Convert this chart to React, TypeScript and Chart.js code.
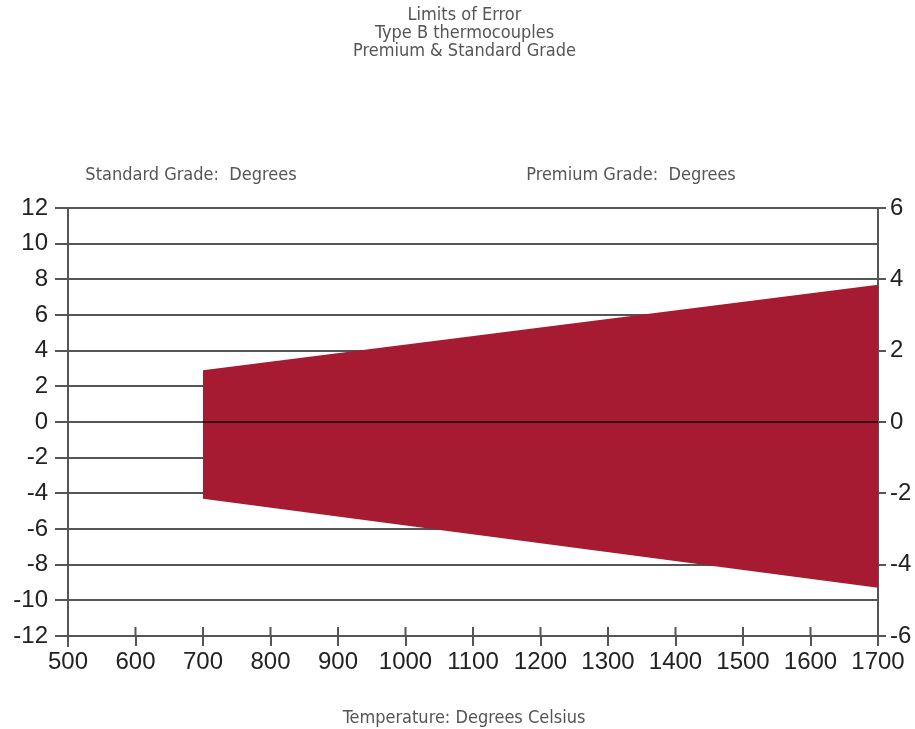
import React, { useEffect, useRef } from 'react';
import { Chart, registerables } from 'chart.js';

Chart.register(...registerables);

// ---- Data ----
const titleLines = ['Limits of Error', 'Type B thermocouples', 'Premium & Standard Grade'];
const leftAxisLabel = 'Standard Grade:  Degrees';
const rightAxisLabel = 'Premium Grade:  Degrees';
const xAxisLabel = 'Temperature: Degrees Celsius';

const temperatures = [700, 1700];
const upperLimit = [2.9, 7.7];
const lowerLimit = [-4.3, -9.3];

const xMin = 500;
const xMax = 1700;
const xStep = 100;
const yLeftMin = -12;
const yLeftMax = 12;
const yRightMin = -6;
const yRightMax = 6;
const yStep = 2;

const RED = '#a61b32';
const GRID = '#555555';
const TICK_TEXT = '#222222';
const NOTE_TEXT = '#555555';
const NARROW = '"Liberation Sans Narrow", "DejaVu Sans Condensed", "Liberation Sans", sans-serif';
const SANS = '"Liberation Sans", Arial, Helvetica, sans-serif';

const extrasPlugin = {
  id: 'extras',
  afterDatasetsDraw(chart: any) {
    const { ctx, scales } = chart;
    const y0 = scales.y.getPixelForValue(0);
    const xa = scales.x.getPixelForValue(temperatures[0]);
    const xb = scales.x.getPixelForValue(temperatures[temperatures.length - 1]);
    ctx.save();
    ctx.strokeStyle = 'rgba(0,0,0,0.67)';
    ctx.lineWidth = 2;
    ctx.beginPath();
    ctx.moveTo(xa, y0);
    ctx.lineTo(xb, y0);
    ctx.stroke();
    ctx.restore();
  },
  afterDraw(chart: any) {
    const { ctx, chartArea, scales } = chart;
    ctx.save();
    // upward x tick marks
    ctx.strokeStyle = GRID;
    ctx.lineWidth = 2;
    scales.x.ticks.forEach((t: any) => {
      const px = scales.x.getPixelForValue(t.value);
      ctx.beginPath();
      ctx.moveTo(px, chartArea.bottom - 9);
      ctx.lineTo(px, chartArea.bottom);
      ctx.stroke();
    });
    // left axis extends slightly below
    ctx.beginPath();
    ctx.moveTo(chartArea.left, chartArea.bottom);
    ctx.lineTo(chartArea.left, chartArea.bottom + 11);
    ctx.stroke();

    ctx.fillStyle = NOTE_TEXT;
    ctx.font = `18px ${NARROW}`;
    ctx.textAlign = 'center';
    ctx.textBaseline = 'middle';
    ctx.fillText(leftAxisLabel, chartArea.left + 123, chartArea.top - 33);
    ctx.fillText(rightAxisLabel, chartArea.left + 563, chartArea.top - 33);
    ctx.fillText(xAxisLabel, (chartArea.left + chartArea.right) / 2 - 9, chartArea.bottom + 82);
    ctx.restore();
  },
};

export default function App() {
  const canvasRef = useRef<HTMLCanvasElement | null>(null);

  useEffect(() => {
    const canvas = canvasRef.current;
    if (!canvas) return;
    const upper = temperatures.map((t, i) => ({ x: t, y: upperLimit[i] }));
    const lower = temperatures.map((t, i) => ({ x: t, y: lowerLimit[i] }));

    const chart = new Chart(canvas, {
      type: 'line',
      data: {
        datasets: [
          {
            label: 'Upper limit',
            data: upper,
            borderWidth: 0,
            pointRadius: 0,
            backgroundColor: RED,
            borderColor: RED,
            fill: '+1',
            yAxisID: 'y',
          },
          {
            label: 'Lower limit',
            data: lower,
            borderWidth: 0,
            pointRadius: 0,
            backgroundColor: RED,
            borderColor: RED,
            fill: false,
            yAxisID: 'y',
          },
        ],
      },
      options: {
        responsive: false,
        animation: false,
        devicePixelRatio: 1,
        layout: { padding: { left: 14, right: 0, top: 0, bottom: 0 } },
        plugins: {
          legend: { display: false },
          tooltip: { enabled: false },
          title: {
            display: true,
            text: titleLines,
            color: NOTE_TEXT,
            font: { family: NARROW, size: 18, weight: 'normal', lineHeight: 1.0 },
            padding: { top: 6, bottom: 148 },
          },
        },
        scales: {
          x: {
            type: 'linear',
            min: xMin,
            max: xMax,
            afterFit: (s: any) => { s.height = 93; },
            ticks: {
              stepSize: xStep,
              color: TICK_TEXT,
              font: { family: SANS, size: 24 },
              padding: 2,
              maxRotation: 0,
              autoSkip: false,
              callback: (v: any) => String(v),
            },
            grid: {
              display: true,
              drawOnChartArea: false,
              drawTicks: true,
              tickLength: 10,
              color: GRID,
              lineWidth: 2,
            },
            border: { display: true, color: GRID, width: 2 },
          },
          y: {
            type: 'linear',
            position: 'left',
            min: yLeftMin,
            max: yLeftMax,
            afterFit: (s: any) => { s.width = 54; },
            ticks: {
              stepSize: yStep,
              color: TICK_TEXT,
              font: { family: SANS, size: 24 },
              padding: 7,
            },
            grid: {
              color: GRID,
              lineWidth: 2,
              drawTicks: true,
              tickLength: 13,
            },
            border: { display: true, color: GRID, width: 2 },
          },
          y2: {
            type: 'linear',
            position: 'right',
            min: yRightMin,
            max: yRightMax,
            afterFit: (s: any) => { s.width = 37; },
            ticks: {
              stepSize: yStep,
              color: TICK_TEXT,
              font: { family: SANS, size: 24 },
              padding: 4,
            },
            grid: {
              drawOnChartArea: false,
              drawTicks: true,
              tickLength: 8,
              color: GRID,
              lineWidth: 2,
            },
            border: { display: true, color: GRID, width: 2 },
          },
        },
      },
      plugins: [extrasPlugin],
    } as any);

    return () => chart.destroy();
  }, []);

  return (
    <div style={{ position: 'fixed', left: 0, top: 0, width: 915, height: 729, background: '#ffffff' }}>
      <canvas ref={canvasRef} width={915} height={729} style={{ display: 'block' }} />
    </div>
  );
}
